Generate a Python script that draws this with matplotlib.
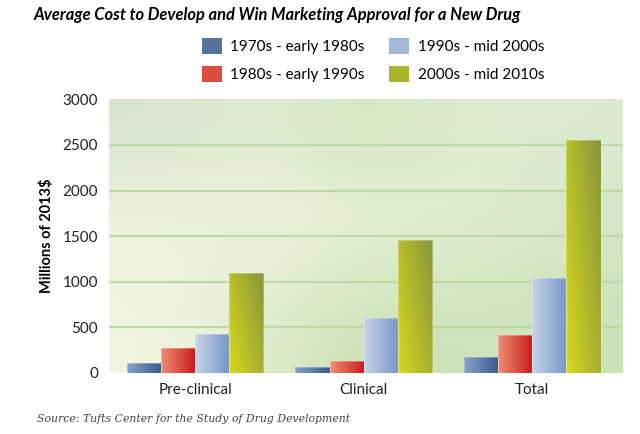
import numpy as np
import matplotlib
matplotlib.use("Agg")
from matplotlib import pyplot as plt
from matplotlib.colors import to_rgb
from matplotlib.patches import Patch

# --- Data ---
categories = ["Pre-clinical", "Clinical", "Total"]
periods = ["1970s - early 1980s", "1980s - early 1990s", "1990s - mid 2000s", "2000s - mid 2010s"]
cost_1970s = [110, 70, 179]
cost_1980s = [275, 135, 413]
cost_1990s = [430, 605, 1044]
cost_2000s = [1098, 1460, 2558]
yticks = [0, 500, 1000, 1500, 2000, 2500, 3000]

# gradient colours (left/bottom -> right/top)
grads = [
    ("#86a2cc", "#3a5b90"),
    ("#ee8e72", "#c81c1c"),
    ("#c8d3e8", "#7897c8"),
    ("#d8d81e", "#86963a"),
]
flat = ["#56739f", "#de4b3c", "#a5b8da", "#aab52a"]

plt.rcParams["font.family"] = ["Lato", "DejaVu Sans"]

fig = plt.figure(figsize=(6.4, 4.34), dpi=100)
ax = fig.add_axes([0.1703, 0.1406, 0.803, 0.6304])

# --- background wash ---
bg = np.array([
    [[214, 228, 206], [226, 237, 212], [208, 229, 190], [224, 237, 210], [220, 235, 208]],
    [[236, 242, 220], [236, 243, 220], [228, 238, 212], [226, 238, 210], [214, 232, 202]],
    [[240, 245, 224], [232, 240, 216], [220, 235, 202], [216, 233, 200], [208, 229, 194]],
    [[242, 246, 226], [224, 236, 206], [198, 224, 178], [208, 229, 190], [202, 226, 184]],
]) / 255.0
ax.imshow(bg, extent=(-0.51, 2.537, 0, 3000), aspect="auto",
          interpolation="bicubic", zorder=0)

for y in yticks[1:-1]:
    ax.axhline(y, color="#bcd9a6", lw=1.6, zorder=1)

# --- bars ---
x = np.arange(len(categories))
w = 0.2025
series = [cost_1970s, cost_1980s, cost_1990s, cost_2000s]
for i, vals in enumerate(series):
    bars = ax.bar(x + (i - 1.5) * w, vals, width=w, color=flat[i], zorder=2, linewidth=0)
    c0, c1 = np.array(to_rgb(grads[i][0])), np.array(to_rgb(grads[i][1]))
    for b in bars:
        x0, bw, h = b.get_x(), b.get_width(), b.get_height()
        if i == 3:
            # diagonal gradient for the olive bars
            gx, gy = np.meshgrid(np.linspace(0, 1, 40), np.linspace(0, 1, 120))
            t = np.clip(0.6 * gx + 0.4 * (1 - gy), 0, 1)
        else:
            t = np.tile(np.linspace(0, 1, 40), (2, 1))
        img = c0[None, None, :] * (1 - t[..., None]) + c1[None, None, :] * t[..., None]
        im = ax.imshow(img, extent=(x0, x0 + bw, 0, h), aspect="auto",
                       interpolation="bilinear", zorder=3)
        im.set_clip_path(b)
        ax.add_patch(plt.Rectangle((x0, 0), bw, h, fill=False, ec=(1, 1, 1, 0.35),
                                   lw=0.6, zorder=4))

ax.set_xlim(-0.51, 2.537)
ax.set_ylim(0, 3000)
ax.set_xticks(x)
ax.set_xticklabels(categories, fontsize=11, color="#222222")
ax.set_yticks(yticks)
ax.set_yticklabels([str(v) for v in yticks], fontsize=11, color="#222222")
ax.tick_params(length=0, pad=8)
ax.tick_params(axis="x", pad=7)
for s in ax.spines.values():
    s.set_visible(False)
ax.set_ylabel("Millions of 2013$", fontsize=10.5, fontweight="bold", labelpad=6)

fig.text(0.052, 0.965, "Average Cost to Develop and Win Marketing Approval for a New Drug",
         fontsize=11.9, fontweight="bold", style="italic", va="center", ha="left")

handles = [Patch(facecolor=flat[i], edgecolor="none") for i in range(4)]
fig.legend(handles, periods, ncol=2, loc="center", bbox_to_anchor=(0.583, 0.862),
           frameon=False, fontsize=11, handlelength=1.3, handleheight=1.3,
           handletextpad=0.55, columnspacing=1.6, labelspacing=0.75)

fig.text(0.058, 0.035, "Source: Tufts Center for the Study of Drug Development",
         fontsize=7.8, style="italic", family=["DejaVu Serif"], color="#444444",
         va="center", ha="left")

fig.savefig("out.png", dpi=100)
